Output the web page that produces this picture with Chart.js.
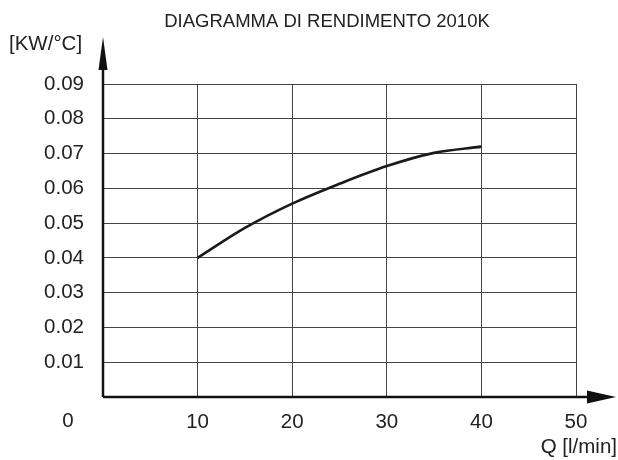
<!DOCTYPE html>
<html>
<head>
<meta charset="utf-8">
<script src="https://cdn.jsdelivr.net/npm/chart.js@4/dist/chart.umd.min.js"></script>
<style>
  html, body { margin: 0; padding: 0; background: #fff; }
  #wrap { width: 618px; height: 460px; }
</style>
</head>
<body>
<div id="wrap"><canvas id="place" width="618" height="460"></canvas></div>
<script>
const portata = [10, 15, 20, 25, 30, 35, 40]
const rendimento = [0.040, 0.0486, 0.0556, 0.0613, 0.0664, 0.0702, 0.0720]
const xTicks = [0, 10, 20, 30, 40, 50]
const yTicks = [0, 0.01, 0.02, 0.03, 0.04, 0.05, 0.06, 0.07, 0.08, 0.09]

const titolo = 'DIAGRAMMA DI RENDIMENTO 2010K'
const yUnit = '[KW/°C]'
const xUnit = 'Q [l/min]'

const font = 'Liberation Sans, Arial, sans-serif'

// frecce degli assi e testi liberi
const axesPlugin = {
  id: 'axes',
  afterDraw(chart) {
    const ctx = chart.ctx
    const x = chart.scales.x
    const y = chart.scales.y
    const x0 = x.getPixelForValue(0)
    const y0 = y.getPixelForValue(0)
    ctx.save()
    ctx.strokeStyle = '#111'
    ctx.fillStyle = '#111'
    ctx.lineWidth = 2.5
    ctx.beginPath()
    ctx.moveTo(x0, y0)
    ctx.lineTo(x0, 62)
    ctx.moveTo(x0, y0)
    ctx.lineTo(592, y0)
    ctx.stroke()
    // freccia y
    ctx.beginPath()
    ctx.moveTo(x0, 37)
    ctx.lineTo(x0 - 4.5, 70)
    ctx.lineTo(x0 + 4.5, 70)
    ctx.closePath()
    ctx.fill()
    // freccia x
    ctx.beginPath()
    ctx.moveTo(616, y0)
    ctx.lineTo(587, y0 - 6.5)
    ctx.lineTo(587, y0 + 6.5)
    ctx.closePath()
    ctx.fill()

    ctx.fillStyle = '#222'
    ctx.textBaseline = 'middle'
    ctx.textAlign = 'center'
    ctx.font = '18.5px ' + font
    ctx.fillText(titolo, 327, 22)
    ctx.font = '20.5px ' + font
    ctx.textAlign = 'left'
    ctx.fillText(yUnit, 9, 44)
    ctx.textAlign = 'right'
    ctx.fillText(xUnit, 617, 447)
    ctx.textAlign = 'center'
    ctx.fillText('0', x0 - 35, 421)
    ctx.restore()
  }
}

new Chart(document.getElementById('place'), {
  type: 'line',
  data: {
    datasets: [{
      data: portata.map((q, i) => ({ x: q, y: rendimento[i] })),
      borderColor: '#1a1a1a',
      borderWidth: 2.6,
      pointRadius: 0,
      cubicInterpolationMode: 'monotone',
      fill: false
    }]
  },
  options: {
    responsive: false,
    animation: false,
    layout: { padding: { top: 84, right: 42, left: 0, bottom: 0 } },
    plugins: {
      legend: { display: false },
      tooltip: { enabled: false }
    },
    scales: {
      x: {
        type: 'linear',
        min: 0,
        max: 50,
        afterBuildTicks: s => { s.ticks = xTicks.map(v => ({ value: v })) },
        afterFit: s => { s.height = 63 },
        grid: { color: '#444', lineWidth: 1, drawTicks: false },
        border: { display: false },
        ticks: {
          padding: 13,
          color: '#222',
          font: { family: font, size: 20.5 },
          callback: v => v === 0 ? '' : v
        }
      },
      y: {
        type: 'linear',
        min: 0,
        max: 0.09,
        afterBuildTicks: s => { s.ticks = yTicks.map(v => ({ value: v })) },
        afterFit: s => { s.width = 103 },
        grid: { color: '#444', lineWidth: 1, drawTicks: false },
        border: { display: false },
        ticks: {
          padding: 19,
          color: '#222',
          font: { family: font, size: 20.5 },
          callback: v => v === 0 ? '' : v.toFixed(2)
        }
      }
    }
  },
  plugins: [axesPlugin]
})
</script>
</body>
</html>
